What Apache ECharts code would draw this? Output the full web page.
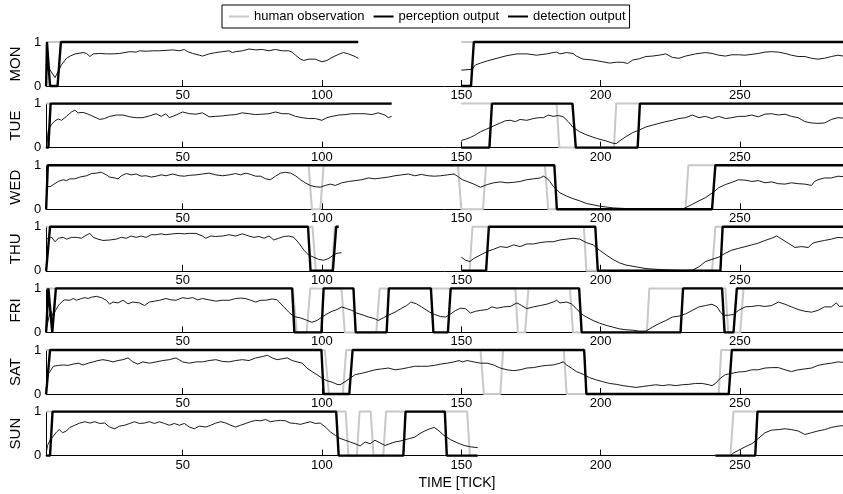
<!DOCTYPE html>
<html><head><meta charset="utf-8">
<script src="https://cdn.jsdelivr.net/npm/echarts@6/dist/echarts.min.js"></script>
<style>html,body{margin:0;padding:0;background:#fff}#c{width:843px;height:494px}</style>
</head><body><div id="c"></div>
<script>
const days = ['MON','TUE','WED','THU','FRI','SAT','SUN'];
const xTicks = [50,100,150,200,250];
const xMin = 1, xMax = 287;
const seriesNames = ['human observation','perception output','detection output'];

// ---- human observation (segments of [tick, value]) ----
const humanMON = [[[1,1],[113,1]], [[150,1],[287,1]]];
const humanTUE = [[[1,1],[125,1]], [[150,1],[184.2,1],[185.2,0],[204.8,0],[205.6,1],[287,1]]];
const humanWED = [[[1,1],[95.2,1],[96.4,0],[99.4,0],[100.6,1],[148.8,1],[150,0],[157.8,0],[158.9,1],[180,1],[181.2,0],[230.5,0],[231.5,1],[287,1]]];
const humanTHU = [[[1,1],[96.6,1],[97.8,0],[103.6,0],[104.6,1],[106,1]], [[150,0],[153,0],[154,1],[194,1],[194.9,0],[240,0],[241.2,1],[287,1]]];
const humanFRI = [[[1,1],[89.5,1],[91,0],[94.5,0],[95.8,1],[107,1],[108.2,0],[119.5,0],[120.7,1],[169.4,1],[170.3,0],[172.9,0],[174.1,1],[189,1],[190.1,0],[216.6,0],[217.5,1],[244.8,1],[245.8,0],[250.1,0],[251.3,1],[287,1]]];
const humanSAT = [[[1,1],[101,1],[102.5,0],[107.5,0],[108.7,1],[156.9,1],[158.1,0],[164,0],[165,1],[186.8,1],[187.8,0],[242.4,0],[243.3,1],[287,1]]];
const humanSUN = [[[1,1],[108.5,1],[109.5,0],[112.5,0],[113.5,1],[117.5,1],[118.5,0],[122,0],[123,1],[152.1,1],[153.1,0],[155.9,0]], [[241.2,0],[246.6,0],[247.7,1],[287,1]]];

// ---- detection output ----
const detectionMON = [[[1,0],[1.3,1],[1.7,1],[2.4,0],[5.1,0],[6.3,1],[113,1]], [[150,0],[153.5,0],[154.5,1],[287,1]]];
const detectionTUE = [[[1,0],[1.8,0],[2.6,1],[125,1]], [[150,0],[160.1,0],[161,1],[189.9,1],[191.1,0],[213.3,0],[214.1,1],[287,1]]];
const detectionWED = [[[1,0],[1.6,1],[183.4,1],[184.3,0],[240,0],[241.2,1],[287,1]]];
const detectionTHU = [[[1,0],[1.6,0],[2.4,1],[95,1],[95.9,0],[103.9,0],[105.1,1],[106,1]], [[150,0],[158.9,0],[159.9,1],[198.1,1],[199,0],[243,0],[243.8,1],[287,1]]];
const detectionFRI = [[[1,0],[1.8,1],[2.3,1],[3.2,0],[3.8,0],[4.5,1],[89.3,1],[90.1,0],[99.8,0],[100.6,1],[111.3,1],[112.1,0],[123.2,0],[124,1],[139.1,1],[140,0],[145.2,0],[146.2,1],[192.3,1],[193.2,0],[228.7,0],[229.6,1],[243.6,1],[244.5,0],[247.7,0],[248.9,1],[287,1]]];
const detectionSAT = [[[1,0],[1.6,0],[2.4,1],[99.8,1],[100.6,0],[109.8,0],[111,1],[194.1,1],[194.9,0],[246,0],[247.1,1],[287,1]]];
const detectionSUN = [[[1,0],[2.4,0],[3.3,1],[105.1,1],[106,0],[129.2,0],[130,1],[144.1,1],[144.8,0],[155.9,0]], [[241.2,0],[255.5,0],[256.3,1],[287,1]]];

// ---- perception output ----
const perceptionMON = [
[[1,0.5],[1.5,0.45],[4.2,0.19],[6.5,0.48],[8.3,0.63],[9.6,0.68],[11.4,0.73],[14.3,0.76],[15.5,0.74],[16.7,0.67],[17.9,0.73],[20.2,0.74],[22.6,0.73],[25,0.73],[27.4,0.74],[31,0.78],[33.3,0.77],[34.5,0.8],[36.9,0.79],[39.3,0.8],[41.7,0.8],[44,0.81],[46.4,0.82],[48.8,0.8],[50.6,0.83],[51.8,0.78],[53.6,0.74],[56,0.7],[57.1,0.68],[59.5,0.73],[61.9,0.76],[64.3,0.78],[66.7,0.8],[67.9,0.76],[69,0.78],[71.4,0.8],[73.8,0.84],[76.2,0.82],[78.6,0.83],[81,0.8],[83.3,0.83],[85.7,0.8],[88.1,0.8],[89.3,0.77],[90.5,0.7],[92.3,0.61],[93.5,0.58],[95.2,0.61],[97.6,0.61],[100,0.55],[101.8,0.58],[103.6,0.65],[106,0.72],[107.7,0.76],[109.5,0.73],[111.9,0.67],[113,0.63]],
[[150,0.36],[153.9,0.38],[155.1,0.48],[156.9,0.52],[159.3,0.57],[162.8,0.63],[166.4,0.69],[170,0.73],[173.5,0.73],[177.1,0.7],[180.6,0.73],[183,0.76],[184.2,0.77],[185.4,0.73],[187.8,0.76],[190.1,0.74],[191.3,0.68],[193.7,0.61],[197.3,0.59],[200.8,0.55],[203.2,0.52],[205.6,0.54],[208,0.54],[209.7,0.51],[211.5,0.59],[213.9,0.62],[216.3,0.67],[218.6,0.68],[221,0.7],[223.4,0.73],[225.8,0.65],[228.1,0.63],[230.5,0.68],[234.1,0.73],[237.6,0.76],[240,0.74],[242.4,0.7],[244.8,0.68],[247.1,0.71],[249.5,0.71],[251.9,0.7],[254.3,0.72],[256.6,0.74],[259,0.77],[261.4,0.78],[263.8,0.77],[266.2,0.74],[268.5,0.7],[270.9,0.67],[273.3,0.67],[275.7,0.63],[278,0.61],[280.4,0.63],[282.8,0.67],[285.2,0.7],[287,0.68]]
];
const perceptionTUE = [
[[1.3,0.1],[1.8,0.4],[3,0.53],[4.2,0.61],[5.4,0.65],[6.5,0.62],[8.3,0.71],[10.1,0.81],[11.3,0.85],[12.5,0.79],[14.3,0.8],[16.1,0.76],[17.9,0.71],[20.2,0.64],[22,0.66],[23.8,0.71],[26.2,0.74],[28.6,0.74],[31,0.7],[33.3,0.68],[35.7,0.68],[38.1,0.72],[40.5,0.77],[42.3,0.71],[44,0.77],[45.2,0.68],[47.6,0.74],[50,0.81],[52.4,0.77],[54.8,0.76],[57.1,0.79],[59.5,0.7],[61.9,0.71],[64.3,0.72],[66.7,0.74],[69,0.75],[71.4,0.79],[73.8,0.77],[76.2,0.75],[78.6,0.76],[81,0.77],[83.3,0.81],[85.7,0.77],[88.1,0.77],[90.5,0.71],[92.9,0.68],[95.2,0.66],[97.6,0.66],[100,0.62],[101.8,0.68],[103.6,0.71],[106,0.74],[108.3,0.75],[110.7,0.77],[113.1,0.77],[115.5,0.77],[117.9,0.75],[120.2,0.79],[122.6,0.74],[123.8,0.68],[125,0.71]],
[[150,0.16],[151.5,0.19],[153.3,0.23],[155.1,0.29],[156.9,0.36],[158.7,0.41],[160.5,0.46],[162.2,0.51],[164,0.56],[165.8,0.61],[167.6,0.62],[169.4,0.59],[171.1,0.64],[173.5,0.62],[175.9,0.66],[177.7,0.68],[179.5,0.68],[181.2,0.74],[183,0.71],[184.8,0.73],[186.6,0.7],[188.4,0.59],[190.1,0.46],[192.5,0.36],[194.9,0.29],[198.5,0.21],[202,0.15],[204.4,0.1],[205.6,0.09],[206.8,0.15],[209.1,0.25],[211.5,0.34],[213.9,0.4],[216.3,0.47],[218.6,0.51],[221,0.55],[223.4,0.59],[225.8,0.62],[228.1,0.66],[230.5,0.68],[232.9,0.74],[235.3,0.68],[237.6,0.71],[240,0.66],[242.4,0.71],[244.8,0.66],[247.1,0.68],[249.5,0.71],[251.9,0.71],[254.3,0.74],[256.6,0.7],[259,0.76],[261.4,0.77],[263.8,0.74],[266.2,0.76],[268.5,0.71],[270.9,0.68],[273.3,0.59],[275.7,0.56],[278,0.55],[280.4,0.56],[282.8,0.64],[285.2,0.68],[287,0.67]]
];
const perceptionWED = [
[[1.2,0.52],[2.4,0.51],[3.6,0.56],[5.4,0.63],[7.1,0.67],[8.3,0.65],[9.5,0.69],[11.3,0.69],[13.1,0.73],[15.5,0.76],[17.3,0.81],[19,0.82],[20.8,0.84],[22.6,0.78],[23.8,0.73],[25.6,0.71],[26.8,0.69],[28,0.76],[29.8,0.81],[31.5,0.78],[33.3,0.8],[35.1,0.75],[36.9,0.76],[38.7,0.73],[40.5,0.75],[42.3,0.78],[44,0.76],[46.4,0.8],[48.8,0.76],[50.6,0.75],[52.4,0.77],[54.8,0.78],[57.1,0.8],[59.5,0.82],[61.9,0.78],[64.3,0.76],[66.7,0.78],[69,0.81],[70.8,0.78],[72.6,0.82],[74.4,0.79],[76.2,0.75],[78,0.75],[79.8,0.69],[81.5,0.67],[83.3,0.75],[85.1,0.82],[86.9,0.84],[88.7,0.82],[90.5,0.76],[92.3,0.67],[94,0.6],[95.8,0.54],[97.6,0.51],[99.4,0.5],[101.2,0.54],[103,0.57],[104.8,0.54],[107.1,0.6],[109.5,0.63],[111.9,0.65],[114.3,0.67],[116.7,0.71],[119,0.69],[121.4,0.71],[123.8,0.73],[126.2,0.76],[128.6,0.78],[131,0.8],[133.3,0.76],[135.7,0.79],[138.1,0.76],[140.3,0.75],[142.6,0.76],[145,0.78],[147.4,0.8],[148.6,0.75],[150.4,0.67],[152.1,0.63],[154.5,0.57],[156.9,0.5],[159.3,0.56],[161.6,0.6],[164,0.62],[166.4,0.6],[168.8,0.61],[171.1,0.63],[173.5,0.67],[175.9,0.69],[178.3,0.71],[179.5,0.75],[180.6,0.71],[181.8,0.63],[183,0.52],[184.2,0.45],[185.4,0.37],[187.8,0.3],[190.1,0.24],[192.5,0.19],[194.9,0.13],[197.3,0.1],[199.6,0.07],[202,0.05],[204.4,0.03],[209.1,0.015],[213.9,0.01],[218.6,0.01],[224.6,0.01],[229.9,0.015],[232.9,0.11],[235.3,0.19],[237.6,0.26],[240.6,0.39],[242.4,0.49],[244.8,0.56],[247.1,0.61],[249.5,0.67],[251.9,0.66],[254.3,0.63],[256.6,0.65],[259,0.6],[261.4,0.62],[263.8,0.58],[266.2,0.57],[268.5,0.6],[270.9,0.58],[273.3,0.57],[275.7,0.54],[276.8,0.63],[278,0.67],[280.4,0.71],[282.8,0.71],[285.2,0.75],[287,0.74]]
];
const perceptionTHU = [
[[1,0.72],[1.5,0.72],[3,0.76],[4.2,0.66],[5.4,0.74],[7.1,0.76],[8.3,0.72],[10.1,0.76],[11.9,0.76],[13.7,0.74],[14.9,0.79],[16.7,0.85],[17.9,0.76],[19.6,0.72],[21.4,0.69],[23.8,0.7],[26.2,0.72],[28,0.76],[29.8,0.74],[31.5,0.79],[33.3,0.76],[35.1,0.79],[36.9,0.76],[38.7,0.82],[40.5,0.82],[42.3,0.84],[44,0.82],[46.4,0.84],[48.8,0.85],[50.6,0.84],[52.4,0.85],[54.8,0.85],[57.1,0.79],[58.3,0.74],[60.1,0.79],[61.9,0.78],[64.3,0.79],[66.7,0.82],[69,0.79],[71.4,0.84],[73.8,0.79],[75.6,0.76],[77.4,0.78],[79.2,0.74],[81,0.79],[82.7,0.7],[84.5,0.74],[86.3,0.78],[88.1,0.79],[89.9,0.76],[91.7,0.63],[93.5,0.47],[95.2,0.36],[97,0.31],[98.8,0.26],[100.6,0.24],[102.4,0.28],[104.2,0.36],[105.4,0.4],[107,0.41]],
[[150,0.31],[151.5,0.24],[153.1,0.21],[154.5,0.28],[156.9,0.36],[159.3,0.44],[161.6,0.49],[164,0.55],[166.4,0.53],[168.8,0.59],[171.1,0.55],[173.5,0.61],[175.9,0.61],[178.3,0.64],[180.6,0.66],[183,0.66],[185.4,0.7],[187.8,0.72],[190.1,0.74],[192.5,0.72],[194.9,0.64],[197.3,0.59],[199.6,0.47],[202,0.36],[204.4,0.26],[206.8,0.18],[209.1,0.13],[212.7,0.09],[216.3,0.05],[221,0.03],[225.8,0.015],[230.5,0.01],[232.9,0.015],[235.3,0.09],[237.6,0.21],[240,0.26],[242.4,0.31],[244.8,0.4],[247.1,0.47],[249.5,0.51],[251.9,0.55],[254.3,0.59],[256.6,0.63],[259,0.69],[261.4,0.74],[263.2,0.79],[265,0.72],[267.3,0.63],[269.7,0.53],[272.1,0.55],[274.5,0.53],[276.2,0.63],[278,0.66],[280.4,0.69],[282.8,0.72],[285.2,0.76],[287,0.75]]
];
const perceptionFRI = [
[[1,0.05],[2,0.35],[2.6,0.5],[3.4,0.38],[4.4,0.5],[5.5,0.62],[6.9,0.71],[7.7,0.74],[9.5,0.73],[10.7,0.77],[11.9,0.73],[13.7,0.77],[14.9,0.79],[16.1,0.77],[17.3,0.8],[19,0.82],[20.8,0.79],[22.6,0.73],[23.8,0.64],[25,0.69],[26.8,0.67],[28.6,0.73],[30.4,0.65],[32.1,0.69],[34.5,0.67],[36.3,0.61],[38.1,0.69],[39.9,0.71],[41.7,0.73],[44,0.77],[45.8,0.74],[47.6,0.73],[50,0.79],[51.8,0.77],[53.6,0.79],[55.4,0.74],[57.1,0.77],[59.5,0.74],[61.9,0.71],[64.3,0.73],[66.7,0.73],[69,0.77],[70.8,0.78],[72.6,0.77],[74.4,0.73],[76.2,0.69],[78,0.73],[79.8,0.73],[82.1,0.76],[83.9,0.74],[86.3,0.58],[88.1,0.46],[89.9,0.36],[92.3,0.33],[94,0.29],[96.4,0.23],[98.2,0.27],[100,0.35],[101.8,0.42],[103.6,0.48],[105.4,0.52],[107.1,0.58],[108.9,0.54],[110.7,0.5],[112.5,0.44],[114.9,0.39],[116.7,0.35],[119,0.31],[120.2,0.27],[122,0.33],[123.8,0.39],[126.2,0.46],[128.6,0.55],[130.4,0.61],[131.9,0.69],[133.9,0.65],[135.7,0.58],[138.7,0.46],[140.3,0.41],[142.6,0.36],[144.4,0.35],[146.2,0.42],[148,0.5],[149.8,0.55],[151.5,0.54],[153.3,0.44],[155.1,0.48],[156.9,0.5],[159.3,0.52],[161,0.58],[162.8,0.55],[165.2,0.58],[167.6,0.59],[170,0.67],[171.7,0.61],[173.5,0.54],[175.9,0.58],[178.3,0.61],[180.6,0.64],[183,0.69],[184.2,0.73],[185.4,0.67],[187.8,0.69],[189.5,0.65],[191.3,0.54],[193.1,0.42],[194.9,0.35],[197.3,0.27],[199.6,0.21],[202,0.16],[204.4,0.12],[206.8,0.08],[209.1,0.06],[211.5,0.05],[213.9,0.03],[216.3,0.03],[218.6,0.12],[221,0.2],[223.4,0.27],[225.8,0.35],[228.1,0.37],[230.5,0.42],[232.9,0.5],[235.3,0.58],[237.6,0.61],[240,0.64],[241.8,0.58],[243,0.46],[244.2,0.39],[246,0.39],[247.7,0.41],[249.5,0.5],[251.9,0.58],[254.3,0.59],[256.6,0.61],[259,0.59],[261.4,0.61],[263.8,0.69],[266.2,0.64],[268.5,0.58],[270.9,0.52],[273.3,0.48],[275.7,0.46],[278,0.5],[280.4,0.58],[282.8,0.58],[284.6,0.67],[285.7,0.59],[287,0.6]]
];
const perceptionSAT = [
[[1,0.09],[1.5,0.44],[2.4,0.51],[3.6,0.63],[5.4,0.65],[7.1,0.66],[8.9,0.65],[10.7,0.68],[12.5,0.7],[14.3,0.66],[16.1,0.7],[17.9,0.73],[19.6,0.76],[21.4,0.78],[23.2,0.76],[25,0.73],[26.8,0.76],[28.6,0.78],[30.4,0.82],[32.1,0.73],[33.9,0.68],[35.7,0.73],[38.1,0.7],[40.5,0.73],[42.9,0.76],[45.2,0.78],[47.6,0.82],[50,0.73],[52.4,0.7],[54.8,0.73],[57.1,0.73],[59.5,0.76],[61.9,0.78],[64.3,0.74],[66.7,0.73],[69,0.76],[71.4,0.78],[73.8,0.76],[76.2,0.82],[78.6,0.85],[80.4,0.88],[82.1,0.82],[83.9,0.78],[85.7,0.8],[87.5,0.82],[89.3,0.76],[91.1,0.73],[92.9,0.7],[94.6,0.59],[96.4,0.51],[98.2,0.44],[100,0.36],[101.8,0.3],[103.6,0.27],[105.4,0.22],[106.5,0.21],[108.3,0.28],[110.1,0.36],[111.9,0.44],[114.3,0.47],[116.7,0.51],[119,0.55],[121.4,0.57],[123.8,0.59],[126.2,0.55],[128.6,0.57],[131,0.6],[133.3,0.63],[135.7,0.63],[137.9,0.63],[140.3,0.65],[142.6,0.68],[145,0.7],[147.4,0.73],[149.2,0.76],[150.4,0.73],[152.1,0.76],[154.5,0.73],[156.9,0.7],[159.3,0.7],[161.6,0.66],[164,0.59],[166.4,0.55],[168.8,0.53],[171.1,0.55],[173.5,0.59],[175.9,0.6],[178.3,0.63],[180.6,0.65],[183,0.66],[185.4,0.7],[186.6,0.73],[187.8,0.66],[189.5,0.59],[191.3,0.51],[193.7,0.45],[196.1,0.37],[198.5,0.32],[200.8,0.28],[203.2,0.24],[205.6,0.22],[208,0.19],[210.3,0.17],[212.7,0.15],[215.1,0.17],[217.5,0.19],[219.8,0.21],[222.2,0.19],[224.6,0.21],[227,0.19],[229.3,0.21],[231.7,0.22],[234.1,0.24],[236.5,0.24],[238.8,0.21],[240,0.19],[241.2,0.24],[243,0.36],[244.8,0.44],[247.1,0.47],[249.5,0.5],[251.9,0.51],[254.3,0.55],[256.6,0.55],[259,0.59],[261.4,0.6],[263.8,0.6],[266.2,0.55],[268.5,0.51],[270.9,0.55],[273.3,0.57],[275.7,0.59],[278,0.65],[280.4,0.68],[282.8,0.7],[285.2,0.73],[287,0.72]]
];
const perceptionSUN = [
[[1,0.05],[1.5,0.23],[2.4,0.35],[3.3,0.42],[4.8,0.54],[5.7,0.59],[6.9,0.52],[8.3,0.56],[9.5,0.64],[11.3,0.69],[13.1,0.74],[14.9,0.77],[16.7,0.74],[18.5,0.77],[20.2,0.73],[22,0.74],[23.8,0.65],[25.6,0.61],[27.4,0.67],[29.2,0.69],[31,0.73],[32.7,0.77],[34.5,0.73],[36.3,0.74],[38.1,0.77],[39.9,0.73],[41.7,0.77],[43.5,0.73],[45.2,0.69],[47,0.73],[48.8,0.69],[50.6,0.73],[52.4,0.65],[54.2,0.61],[56,0.67],[58.3,0.65],[60.1,0.69],[61.9,0.74],[63.7,0.77],[65.5,0.74],[67.3,0.69],[69,0.65],[70.8,0.69],[72.6,0.73],[74.4,0.77],[76.2,0.8],[78,0.79],[79.8,0.82],[81.5,0.77],[83.3,0.79],[85.1,0.8],[86.9,0.79],[88.7,0.74],[90.5,0.73],[92.3,0.71],[94,0.74],[95.8,0.77],[97.6,0.73],[99.4,0.74],[101.2,0.65],[103,0.54],[104.8,0.46],[106.5,0.39],[108.3,0.35],[110.1,0.31],[111.9,0.27],[113.7,0.22],[115.5,0.31],[117.3,0.27],[119,0.35],[120.8,0.29],[122.6,0.23],[124.4,0.27],[126.2,0.31],[128,0.33],[129.8,0.36],[131.5,0.39],[133.3,0.42],[135.1,0.5],[136.9,0.56],[138.7,0.61],[140.3,0.64],[142,0.56],[143.8,0.46],[146.2,0.36],[148.6,0.29],[151,0.23],[153.3,0.2],[155.9,0.18]],
[[246.6,0],[247.7,0.06],[249.5,0.12],[251.9,0.2],[254.3,0.27],[256.6,0.39],[259,0.52],[261.4,0.58],[263.8,0.59],[266.2,0.61],[268.5,0.59],[270.9,0.56],[273.3,0.48],[275.7,0.52],[278,0.56],[280.4,0.59],[282.8,0.64],[285.2,0.67],[287,0.68]]
];

const human = [humanMON, humanTUE, humanWED, humanTHU, humanFRI, humanSAT, humanSUN];
const perception = [perceptionMON, perceptionTUE, perceptionWED, perceptionTHU, perceptionFRI, perceptionSAT, perceptionSUN];
const detection = [detectionMON, detectionTUE, detectionWED, detectionTHU, detectionFRI, detectionSAT, detectionSUN];

const FONT = '"Liberation Sans", Arial, Helvetica, sans-serif';
function joinSegs(segs) {
  const out = [];
  segs.forEach((s, k) => {
    if (k > 0) out.push([(segs[k-1][segs[k-1].length-1][0] + s[0][0]) / 2, '-']);
    s.forEach(p => out.push(p));
  });
  return out;
}

const grids = [], xAxes = [], yAxes = [], series = [];
days.forEach((d, i) => {
  grids.push({ left: 42, top: 42 + i * 61.6, width: 805, height: 44 });
  xAxes.push({
    type: 'value', gridIndex: i, min: xMin, max: xMax,
    axisLine: { show: true, onZero: false, lineStyle: { color: '#000', width: 1 } },
    axisTick: { show: true, inside: true, length: 6, customValues: xTicks, lineStyle: { color: '#000', width: 1 } },
    axisLabel: { customValues: xTicks, fontSize: 13, color: '#000', margin: 3, fontFamily: FONT },
    splitLine: { show: false }
  });
  yAxes.push({
    type: 'value', gridIndex: i, min: 0, max: 1, interval: 1,
    axisLine: { show: true, lineStyle: { color: '#000', width: 1 } },
    axisTick: { show: false },
    axisLabel: { fontSize: 13, color: '#000', margin: 5, fontFamily: FONT },
    splitLine: { show: false },
    name: d, nameLocation: 'middle', nameRotate: 90, nameGap: 21,
    nameTextStyle: { fontSize: 15, color: '#000', fontFamily: FONT }
  });
  const common = { type: 'line', xAxisIndex: i, yAxisIndex: i, symbol: 'none', showSymbol: false, clip: false, connectNulls: false, animation: false, silent: true };
  series.push(Object.assign({}, common, { name: seriesNames[0], data: joinSegs(human[i]), lineStyle: { color: '#c8c8c8', width: 2 }, itemStyle: { color: '#c8c8c8' }, z: 2 }));
  series.push(Object.assign({}, common, { name: seriesNames[1], data: joinSegs(perception[i]), lineStyle: { color: '#000', width: 0.9 }, itemStyle: { color: '#000' }, z: 3 }));
  series.push(Object.assign({}, common, { name: seriesNames[2], data: joinSegs(detection[i]), lineStyle: { color: '#000', width: 2.4 }, itemStyle: { color: '#000' }, z: 4 }));
});

const chart = echarts.init(document.getElementById('c'), null, { renderer: 'canvas' });
chart.setOption({
  animation: false,
  backgroundColor: '#fff',
  textStyle: { fontFamily: FONT },
  grid: grids, xAxis: xAxes, yAxis: yAxes, series: series,
  legend: {
    data: seriesNames, left: 222, top: 5, orient: 'horizontal',
    itemWidth: 20, itemHeight: 2, itemGap: 8, padding: [5, 4, 5, 6],
    itemStyle: { opacity: 0 },
    borderColor: '#000', borderWidth: 1, backgroundColor: '#fff',
    selectedMode: false,
    textStyle: { fontSize: 13, color: '#000', fontFamily: FONT }
  },
  graphic: [{
    type: 'text', x: 457, y: 483, style: { text: 'TIME [TICK]', fill: '#000', font: '14px ' + FONT, align: 'center', verticalAlign: 'middle' }
  }]
});
</script>
</body></html>
